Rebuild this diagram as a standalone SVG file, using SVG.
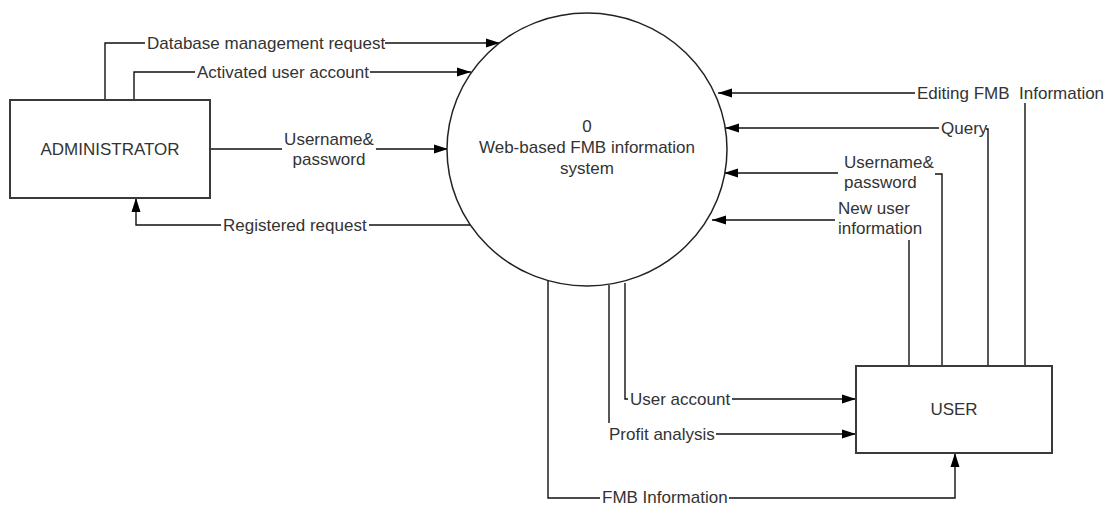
<svg xmlns="http://www.w3.org/2000/svg" width="1111" height="508" viewBox="0 0 1111 508">
  <style>
    .entity { fill: #ffffff; stroke: #3a3a3a; stroke-width: 2; }
    .process { fill: #ffffff; stroke: #222222; stroke-width: 1.5; }
    .flow { fill: none; stroke: #111111; stroke-width: 1.4; }
    text { font-family: "Liberation Sans", Arial, sans-serif; font-size: 17px; fill: #333333; }
    .mid { text-anchor: middle; }
  </style>
  <defs>
    <marker id="arrow" markerWidth="14" markerHeight="10" refX="14" refY="5" orient="auto" markerUnits="userSpaceOnUse">
      <path d="M0,0.5 L14,5 L0,9.5 z" fill="#000000"/>
    </marker>
  </defs>

  <rect width="1111" height="508" fill="#ffffff"/>

  <!-- data flows -->
  <g id="connectors">
    <!-- Database management request -->
    <path class="flow" d="M105,100 V43 H145"/>
    <path class="flow" d="M385,43 H500" marker-end="url(#arrow)"/>
    <text x="147" y="49">Database management request</text>

    <!-- Activated user account -->
    <path class="flow" d="M134,100 V72 H195"/>
    <path class="flow" d="M370,72 H471" marker-end="url(#arrow)"/>
    <text x="197" y="78">Activated user account</text>

    <!-- Username & password (administrator) -->
    <path class="flow" d="M210,149 H282"/>
    <path class="flow" d="M376,149 H448" marker-end="url(#arrow)"/>
    <text class="mid" x="329" y="145">Username&amp;</text>
    <text class="mid" x="329" y="165">password</text>

    <!-- Registered request -->
    <path class="flow" d="M472,225 H369"/>
    <path class="flow" d="M221,225 H136 V198" marker-end="url(#arrow)"/>
    <text x="223" y="231">Registered request</text>

    <!-- Editing FMB Information -->
    <path class="flow" d="M1025,366 V103"/>
    <path class="flow" d="M915,93 H718" marker-end="url(#arrow)"/>
    <text x="917" y="99" xml:space="preserve">Editing FMB  Information</text>

    <!-- Query -->
    <path class="flow" d="M988,366 V129 H986"/>
    <path class="flow" d="M939,128 H725" marker-end="url(#arrow)"/>
    <text x="941" y="134">Query</text>

    <!-- Username & password (user) -->
    <path class="flow" d="M942,366 V174 H935"/>
    <path class="flow" d="M838,173 H724" marker-end="url(#arrow)"/>
    <text x="844" y="168">Username&amp;</text>
    <text x="844" y="188">password</text>

    <!-- New user information -->
    <path class="flow" d="M909,366 V240"/>
    <path class="flow" d="M835,220 H712" marker-end="url(#arrow)"/>
    <text x="838" y="214">New user</text>
    <text x="838" y="234">information</text>

    <!-- User account -->
    <path class="flow" d="M625,283 V399 H628"/>
    <path class="flow" d="M732,399 H856" marker-end="url(#arrow)"/>
    <text x="630" y="405">User account</text>

    <!-- Profit analysis -->
    <path class="flow" d="M609,285 V423"/>
    <path class="flow" d="M716,434 H856" marker-end="url(#arrow)"/>
    <text x="609" y="440">Profit analysis</text>

    <!-- FMB Information -->
    <path class="flow" d="M548,281 V498 H600"/>
    <path class="flow" d="M729,498 H955 V453" marker-end="url(#arrow)"/>
    <text x="602" y="503">FMB Information</text>
  </g>

  <!-- external entity: administrator -->
  <g id="administrator">
    <rect class="entity" x="10" y="100" width="200" height="98"/>
    <text class="mid" x="110" y="155">ADMINISTRATOR</text>
  </g>

  <!-- process 0 -->
  <g id="process-0">
    <ellipse class="process" cx="587" cy="149.5" rx="140" ry="136.5"/>
    <text class="mid" x="587" y="132">0</text>
    <text class="mid" x="587" y="153">Web-based FMB information</text>
    <text class="mid" x="587" y="174">system</text>
  </g>

  <!-- external entity: user -->
  <g id="user">
    <rect class="entity" x="856" y="366" width="196" height="87"/>
    <text class="mid" x="954" y="415">USER</text>
  </g>
</svg>
